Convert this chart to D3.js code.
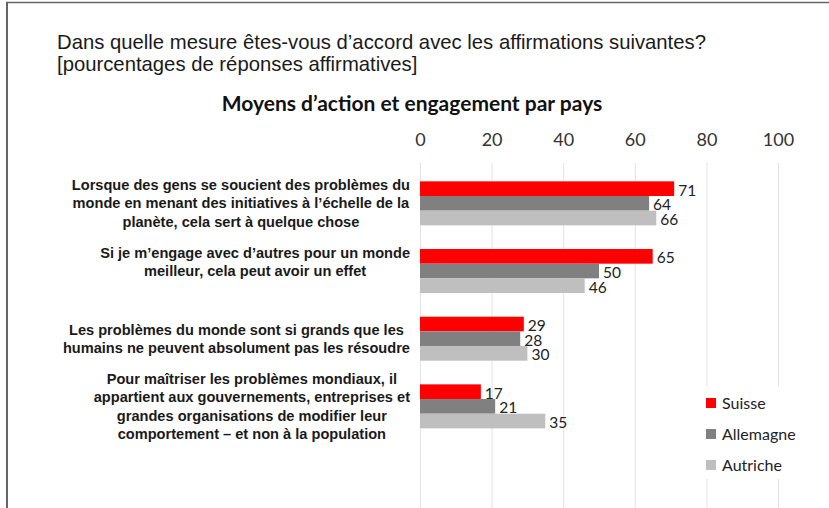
<!DOCTYPE html>
<html>
<head>
<meta charset="utf-8">
<script src="https://cdn.jsdelivr.net/npm/d3@7"></script>
<style>
  html, body { margin: 0; padding: 0; background: #fff; }
  svg { display: block; }
</style>
</head>
<body>
<svg id="chart" width="829" height="508"></svg>
<script>
// ---- data ----
const categories = [
  "Lorsque des gens se soucient des problèmes du\nmonde en menant des initiatives à l’échelle de la\nplanète, cela sert à quelque chose",
  "Si je m’engage avec d’autres pour un monde\nmeilleur, cela peut avoir un effet\n",
  "Les problèmes du monde sont si grands que les\nhumains ne peuvent absolument pas les résoudre",
  "Pour maîtriser les problèmes mondiaux, il\nappartient aux gouvernements, entreprises et\ngrandes organisations de modifier leur\ncomportement – et non à la population"
];
const seriesNames = ["Suisse", "Allemagne", "Autriche"];
const suisse    = [71, 65, 29, 17];
const allemagne = [64, 50, 28, 21];
const autriche  = [66, 46, 30, 35];
const xTicks = [0, 20, 40, 60, 80, 100];
const titleLines = [
  "Dans quelle mesure êtes-vous d’accord avec les affirmations suivantes?",
  "[pourcentages de réponses affirmatives]"
];
const chartTitle = "Moyens d’action et engagement par pays";

const seriesValues = [suisse, allemagne, autriche];
const colors = ["#ff0000", "#808080", "#bfbfbf"];

const svg = d3.select("#chart");

// frame
svg.append("line").attr("x1", 6).attr("x2", 829).attr("y1", 2.5).attr("y2", 2.5)
  .attr("stroke", "#666").attr("stroke-width", 1.5);
svg.append("line").attr("x1", 7).attr("x2", 7).attr("y1", 2).attr("y2", 508)
  .attr("stroke", "#666").attr("stroke-width", 2);

// titles
svg.selectAll("text.title").data(titleLines).join("text")
  .attr("class", "title")
  .attr("x", 57).attr("y", (d, i) => 49 + i * 22)
  .attr("font-family", "'Liberation Sans', Arial, sans-serif")
  .attr("font-size", 20.3).attr("fill", "#1a1a1a")
  .text(d => d);

svg.append("text")
  .attr("x", 412).attr("y", 111)
  .attr("text-anchor", "middle")
  .attr("font-family", "Lato, 'Open Sans', sans-serif")
  .attr("font-weight", "bold")
  .attr("font-size", 21).attr("fill", "#111")
  .text(chartTitle);

// scales
const x = d3.scaleLinear().domain([0, 100]).range([420, 778]);
const y = d3.scaleBand().domain(d3.range(categories.length))
  .range([169.5, 440.2]).paddingInner(0.35).paddingOuter(0.175);
const y1 = d3.scaleBand().domain(d3.range(seriesNames.length)).range([0, y.bandwidth()]);

// gridlines
svg.append("g").selectAll("line").data(xTicks).join("line")
  .attr("x1", d => x(d) + 0.5).attr("x2", d => x(d) + 0.5)
  .attr("y1", 163).attr("y2", 508)
  .attr("stroke", "#e3e3e3").attr("stroke-width", 1);

// top axis labels
const axis = d3.axisTop(x).tickValues(xTicks).tickSize(0).tickPadding(0);
const gAxis = svg.append("g").attr("transform", "translate(0,146)").call(axis);
gAxis.select(".domain").remove();
gAxis.selectAll("text")
  .attr("font-family", "Lato, 'Open Sans', sans-serif")
  .attr("font-size", 18).attr("fill", "#333").attr("dy", 0);

// bars
const groups = svg.append("g").selectAll("g").data(categories).join("g")
  .attr("transform", (d, i) => `translate(0,${y(i)})`);

groups.each(function(c, ci) {
  const g = d3.select(this);
  seriesNames.forEach((s, si) => {
    const v = seriesValues[si][ci];
    g.append("rect")
      .attr("x", x(0)).attr("y", y1(si))
      .attr("width", x(v) - x(0)).attr("height", y1.bandwidth())
      .attr("fill", colors[si]);
    g.append("text")
      .attr("x", x(v) + 4).attr("y", y1(si) + y1.bandwidth() / 2 + 1.5)
      .attr("dy", "0.35em")
      .attr("font-family", "Lato, 'Open Sans', sans-serif")
      .attr("font-size", 15.5).attr("fill", "#222")
      .text(v);
  });
});

// category labels (lines centered within a right-aligned block)
const rightEdge = 410;
const lineH = 18.5;
categories.forEach((c, ci) => {
  const lines = c.split("\n");
  const cy = y(ci) + y.bandwidth() / 2;
  const t = svg.append("text")
    .attr("font-family", "'Liberation Sans', Arial, sans-serif")
    .attr("font-weight", "bold")
    .attr("font-size", 14.6).attr("fill", "#1a1a1a")
    .attr("text-anchor", "middle");
  const spans = lines.map((l, li) => t.append("tspan").text(l));
  let maxW = 0;
  spans.forEach(s => { maxW = Math.max(maxW, s.node().getComputedTextLength()); });
  const cx = rightEdge - maxW / 2;
  const y0 = cy - (lines.length - 1) * lineH / 2;
  spans.forEach((s, li) => s.attr("x", cx).attr("y", y0 + li * lineH).attr("dy", "0.35em"));
});

// legend
const lg = svg.append("g");
lg.append("rect").attr("x", 700).attr("y", 386).attr("width", 100).attr("height", 93).attr("fill", "#fff");
seriesNames.forEach((s, si) => {
  const cy = 403 + si * 31;
  lg.append("rect").attr("x", 706).attr("y", cy - 5).attr("width", 10).attr("height", 10).attr("fill", colors[si]);
  lg.append("text").attr("x", 722).attr("y", cy).attr("dy", "0.35em")
    .attr("font-family", "Lato, 'Open Sans', sans-serif")
    .attr("font-size", 16).attr("fill", "#222").text(s);
});
</script>
</body>
</html>
